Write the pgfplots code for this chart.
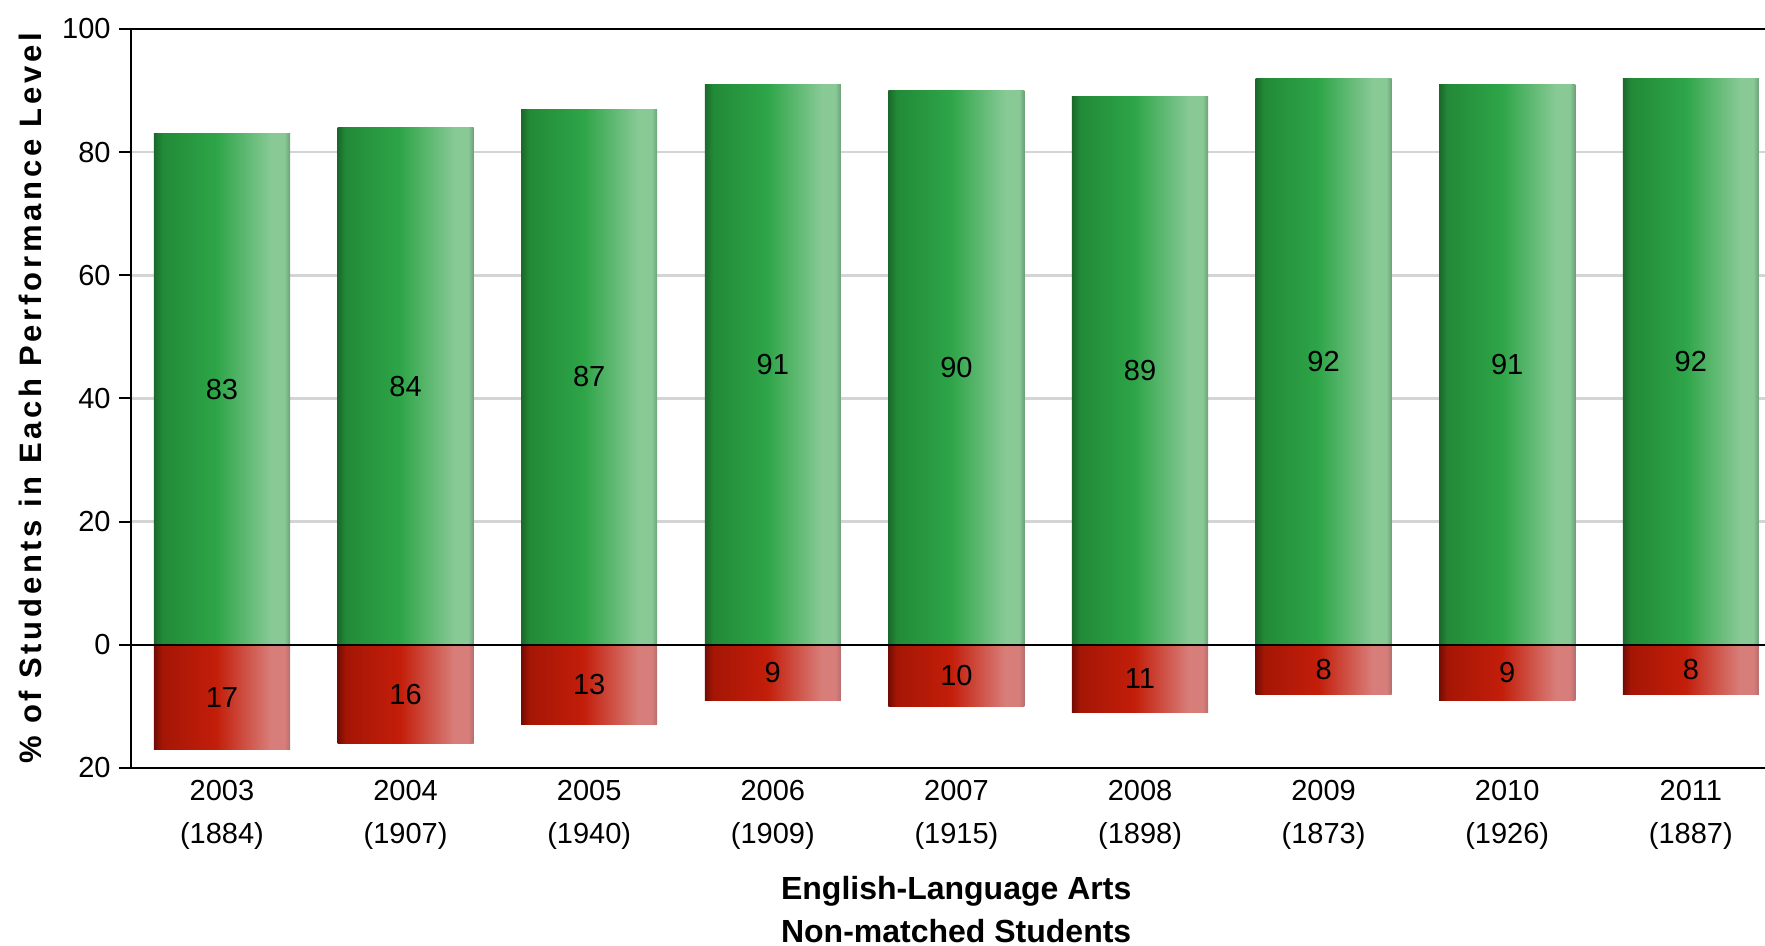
\documentclass[border=0pt]{standalone}
\usepackage{pgfplots}
\pgfplotsset{compat=1.18}
\usepackage{pgfplotstable}
\usepackage{fontspec}
\setmainfont{Liberation Sans}
\newfontfamily\ytfont[LetterSpace=12]{Liberation Sans}
\usetikzlibrary{calc}

\definecolor{gA}{RGB}{26,105,42}
\definecolor{gB}{RGB}{34,138,56}
\definecolor{gC}{RGB}{46,165,72}
\definecolor{gD}{RGB}{136,201,150}
\definecolor{gE}{RGB}{108,160,120}
\pgfdeclarehorizontalshading{greenbar}{100bp}{color(0bp)=(gA); color(25bp)=(gA); color(28bp)=(gB); color(48bp)=(gC); color(68bp)=(gD); color(73bp)=(gD); color(75bp)=(gE); color(100bp)=(gE)}

\definecolor{rA}{RGB}{115,12,4}
\definecolor{rB}{RGB}{165,22,5}
\definecolor{rC}{RGB}{195,30,10}
\definecolor{rD}{RGB}{216,126,122}
\definecolor{rE}{RGB}{180,110,110}
\pgfdeclarehorizontalshading{redbar}{100bp}{color(0bp)=(rA); color(25bp)=(rA); color(28bp)=(rB); color(48bp)=(rC); color(68bp)=(rD); color(73bp)=(rD); color(75bp)=(rE); color(100bp)=(rE)}

\pgfplotstableread{
x g r
0 83 17
1 84 16
2 87 13
3 91 9
4 90 10
5 89 11
6 92 8
7 91 9
8 92 8
}\data

\begin{document}
\begin{tikzpicture}
\begin{axis}[
  scale only axis, width=817pt, height=369.5pt,
  xmin=-0.4956, xmax=8.404, ymin=-20, ymax=100,
  axis x line*=box, axis y line*=left,
  axis line style={line width=1pt, black},
  ytick={-20,0,20,40,60,80,100},
  yticklabels={20,0,20,40,60,80,100},
  xtick={0,...,8},
  xticklabels={{2003\\(1884)},{2004\\(1907)},{2005\\(1940)},{2006\\(1909)},{2007\\(1915)},{2008\\(1898)},{2009\\(1873)},{2010\\(1926)},{2011\\(1887)}},
  ymajorgrids, grid style={black!17, line width=1.3pt},
  tick align=outside, major tick length=6pt,
  ytick style={black, line width=1pt},
  xtick style={draw=none},
  ticklabel style={font=\fontsize{14.5}{21.5}\selectfont},
  yticklabel style={anchor=east, inner sep=0pt, xshift=-4pt},
  xticklabel style={align=center, anchor=north, inner sep=0pt},
  xlabel={English-Language Arts\\Non-matched Students},
  every axis x label/.style={at={(axis description cs:0.505,0)}, anchor=north, align=center, inner sep=0pt, yshift=-53.8pt, font=\bfseries\fontsize{16}{21.5}\selectfont},
  ylabel={\% of Students in Each Performance Level},
  every axis y label/.style={at={(axis description cs:-0.0618,0.5)}, rotate=90, anchor=center, font=\ytfont\bfseries\fontsize{15.5}{18}\selectfont},
  /pgf/number format/assume math mode=true,
  clip=false,
]
\pgfplotsinvokeforeach{0,...,8}{
  \addplot[ybar, bar width=0.741, bar shift=0, draw=none, shade, shading=greenbar,
    restrict x to domain=#1:#1] table[x=x, y=g]{\data};
  \addplot[ybar, bar width=0.741, bar shift=0, draw=none, shade, shading=redbar,
    restrict x to domain=#1:#1] table[x=x, y expr=-\thisrow{r}]{\data};
}
\draw[black, line width=1pt] (axis cs:-0.4956,0) -- (axis cs:8.404,0);
\addplot[draw=none, nodes near coords, point meta=explicit,
  every node near coord/.style={anchor=center, black, font=\fontsize{14.5}{17}\selectfont}]
  table[x=x, y expr=\thisrow{g}/2, meta=g]{\data};
\addplot[draw=none, nodes near coords, point meta=explicit,
  every node near coord/.style={anchor=center, black, font=\fontsize{14.5}{17}\selectfont}]
  table[x=x, y expr=-\thisrow{r}/2, meta=r]{\data};
\end{axis}
\pgfresetboundingbox
\path ($(current axis.south west)+(-65.5pt,-89pt)$) rectangle ($(current axis.north east)+(0pt,14.5pt)$);
\end{tikzpicture}
\end{document}
